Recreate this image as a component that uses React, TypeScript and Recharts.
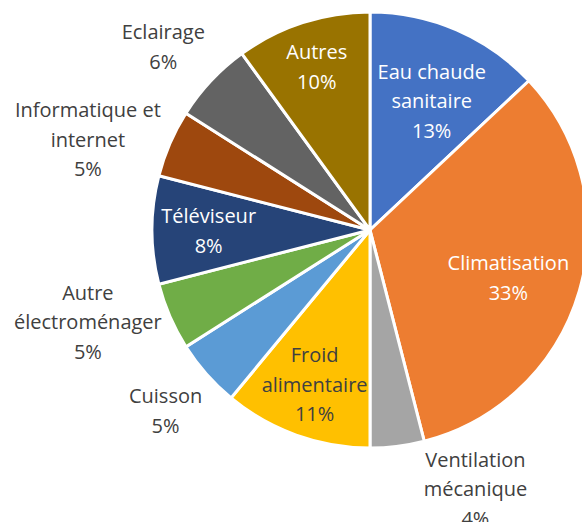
import { Cell, Pie, PieChart } from "recharts";

const categories = [
  "Eau chaude\nsanitaire",
  "Climatisation",
  "Ventilation\nmécanique",
  "Froid\nalimentaire",
  "Cuisson",
  "Autre\nélectroménager",
  "Téléviseur",
  "Informatique et\ninternet",
  "Eclairage",
  "Autres",
];
const shares = [13, 33, 4, 11, 5, 5, 8, 5, 6, 10];

const colors = ["#4472C4", "#ED7D31", "#A5A5A5", "#FFC000", "#5B9BD5", "#70AD47", "#264478", "#9E480E", "#636363", "#997300"];

// label placement: radius factor, angle nudge (deg, clockwise), text colour
const placement = [
  { f: 0.66, da: 2, fill: "#fff" },
  { f: 0.67, da: 2.5, fill: "#fff" },
  { f: 1.28, da: -15, fill: "#404040" },
  { f: 0.75, da: 0, fill: "#404040" },
  { f: 1.25, da: 0, fill: "#404040" },
  { f: 1.36, da: 5.5, fill: "#404040" },
  { f: 0.74, da: 0, fill: "#fff" },
  { f: 1.36, da: -5.5, fill: "#404040" },
  { f: 1.27, da: -1.5, fill: "#404040" },
  { f: 0.79, da: 0, fill: "#fff" },
];

const data = categories.map((name, i) => ({ name, value: shares[i] }));

const RAD = Math.PI / 180;
const LINE_H = 29.5;

function renderLabel(props: any) {
  const { cx, cy, midAngle, outerRadius, index, value } = props;
  const p = placement[index];
  const ang = midAngle - p.da;
  const r = outerRadius * p.f;
  const x = cx + r * Math.cos(-ang * RAD);
  const y = cy + r * Math.sin(-ang * RAD);
  const lines = [...categories[index].split("\n"), `${value}%`];
  const top = y - ((lines.length - 1) * LINE_H) / 2;
  return (
    <text x={x} y={top} textAnchor="middle" dominantBaseline="central" fill={p.fill} fontSize={20} fontFamily="'Open Sans', sans-serif">
      {lines.map((l, k) => (
        <tspan key={k} x={x} dy={k === 0 ? 0 : LINE_H}>
          {l}
        </tspan>
      ))}
    </text>
  );
}

export default function App() {
  return (
    <>
      <style>{`body{margin:0}`}</style>
      <PieChart width={582} height={522} margin={{ top: 0, right: 0, bottom: 0, left: 0 }}>
        <Pie
          data={data}
          dataKey="value"
          nameKey="name"
          cx={370}
          cy={230}
          outerRadius={218}
          startAngle={90}
          endAngle={-270}
          stroke="#fff"
          strokeWidth={3}
          label={renderLabel}
          labelLine={false}
          isAnimationActive={false}
        >
          {data.map((d, i) => (
            <Cell key={d.name} fill={colors[i]} />
          ))}
        </Pie>
      </PieChart>
    </>
  );
}
